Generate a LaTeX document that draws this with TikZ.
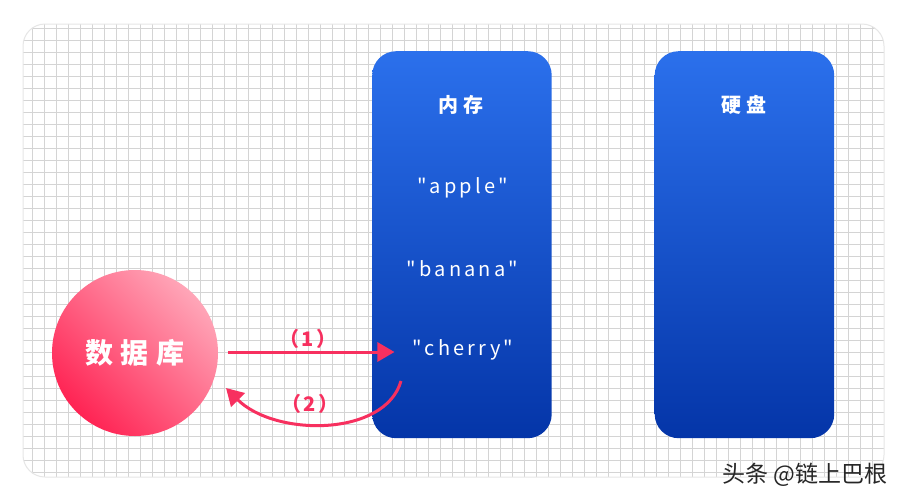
\documentclass[tikz,border=0pt]{standalone}
\usepackage{fontspec}
\setmainfont{Noto Sans CJK SC}
\usetikzlibrary{arrows.meta,calc}
\definecolor{pinkline}{HTML}{F7305F}
\definecolor{gridline}{HTML}{D4D4D4}
\definecolor{panelrim}{HTML}{E6E6E6}
\definecolor{blueTop}{HTML}{2B70EC}
\definecolor{blueBot}{HTML}{0435A8}
\definecolor{rosetop}{HTML}{FFA6B8}
\definecolor{rosebot}{HTML}{FF2353}
\newfontfamily\plainfont{Noto Sans CJK SC}
\tikzset{
  x=1pt,y=-1pt,
  column/.style={rounded corners=24pt,top color=blueTop,bottom color=blueBot,draw=none,
    minimum width=179.5pt,minimum height=387pt,inner sep=0pt,anchor=north west},
  title/.style={text=white,font=\fontsize{20}{20}\bfseries\addfontfeature{LetterSpace=24},inner sep=0pt},
  word/.style={text=white,font=\plainfont\fontsize{20}{20}\selectfont\addfontfeature{LetterSpace=16},inner sep=0pt},
  tag/.style={text=pinkline,font=\fontsize{20}{20}\bfseries\addfontfeature{LetterSpace=10},inner sep=0pt},
  link/.style={draw=pinkline,line width=3pt,-{Triangle[length=17pt,width=19pt]}},
}
\begin{document}
\begin{tikzpicture}
\useasboundingbox (0,0) rectangle (902,501);
\fill[white] (0,0) rectangle (902,501);
\begin{scope}
  \clip[rounded corners=22pt] (23,24) rectangle (884,477);
  \foreach \i in {0,...,71} {\draw[gridline,line width=0.7pt] ({32.3+12*\i},24) -- ({32.3+12*\i},477);}
  \foreach \i in {0,...,37} {\draw[gridline,line width=0.7pt] (23,{28.3+12*\i}) -- (884,{28.3+12*\i});}
\end{scope}
\draw[panelrim,line width=1pt,rounded corners=22pt] (23,24) rectangle (884,477);

\node[column] (mem) at (372,51) {};
\node[column] (disk) at (654.5,51) {};
\node[circle,top color=rosetop,bottom color=rosebot,shading angle=-45,minimum size=166pt,inner sep=0pt,
  text=white,font=\fontsize{28}{28}\bfseries\addfontfeature{LetterSpace=26}] (db) at (135,353) {\raisebox{3pt}{数据库}};

\node[title] (memt) at (461,105) {内存};
\node[title] (diskt) at (744,105) {硬盘};
\node[word] (apple) at (462.5,188) {"apple"};
\node[word] (banana) at (462.5,268.5) {"banana"};
\node[word] (cherry) at (463,350) {"cherry"};

\draw[link] ([xshift=10pt,yshift=1pt]db.east) -- ([xshift=-18pt,yshift=1pt]db.east -| cherry.west);
\coordinate (backstart) at (401,381);
\draw[link] (backstart) .. controls (385,437) and (275,437) .. (226,388);

\node[tag] (one) at (308,339) {（1）};
\node[tag] (two) at (310,403.5) {（2）};
\node[inner sep=0pt,font=\fontsize{23}{23}\selectfont,text=black!85] (mark) at (805,475) {头条 @链上巴根};
\end{tikzpicture}
\end{document}
